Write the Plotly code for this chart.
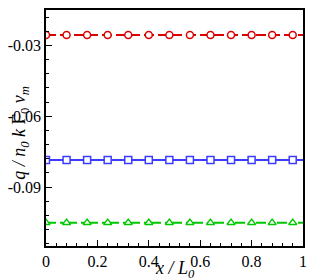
import plotly.graph_objects as go

x_markers = [0, 0.08, 0.16, 0.24, 0.32, 0.40, 0.48, 0.56, 0.64, 0.72, 0.80, 0.88, 0.96]
x_line = [0, 1]
red_val = -0.0256
blue_val = -0.0786
green_val = -0.1051

y_tickvals = [-0.03, -0.06, -0.09]
y_ticktext = ["-0.03", "-0.06", "-0.09"]
x_tickvals = [0, 0.2, 0.4, 0.6, 0.8, 1]
x_ticktext = ["0", "0.2", "0.4", "0.6", "0.8", "1"]

series = [
    ("red", red_val, "rgb(220,0,0)", "10px,4px", "circle"),
    ("blue", blue_val, "rgb(60,60,255)", "solid", "square"),
    ("green", green_val, "rgb(0,200,0)", "10px,4px,3px,4px", "triangle-up"),
]

fig = go.Figure()
for name, val, color, dash, sym in series:
    fig.add_trace(go.Scatter(x=x_line, y=[val] * len(x_line), mode="lines",
                             line=dict(color=color, width=2, dash=dash),
                             showlegend=False, hoverinfo="skip"))
    fig.add_trace(go.Scatter(x=x_markers, y=[val] * len(x_markers), mode="markers",
                             marker=dict(symbol=sym, size=7, color="white",
                                         line=dict(color=color, width=1.5)),
                             showlegend=False))

font = dict(family="Liberation Serif", size=16, color="black")
title_font = dict(family="Liberation Serif", size=18, color="black")

fig.update_layout(
    width=315, height=280,
    margin=dict(l=42, r=8, t=8, b=34),
    paper_bgcolor="white", plot_bgcolor="white",
    font=font,
    xaxis=dict(range=[0, 1], tickvals=x_tickvals, ticktext=x_ticktext,
               ticks="inside", ticklen=6, tickwidth=1.2, tickcolor="black",
               showgrid=False, zeroline=False,
               showline=True, linecolor="black", linewidth=1.5, mirror=True,
               minor=dict(ticks="inside", ticklen=3, dtick=0.04, tickcolor="black", showgrid=False),
               tickfont=font),
    yaxis=dict(range=[-0.115, -0.015], tickvals=y_tickvals, ticktext=y_ticktext,
               ticks="inside", ticklen=6, tickwidth=1.2, tickcolor="black",
               showgrid=False, zeroline=False,
               showline=True, linecolor="black", linewidth=1.5, mirror=True,
               minor=dict(ticks="inside", ticklen=3, tick0=-0.03, dtick=0.006, tickcolor="black", showgrid=False),
               tickfont=font),
    annotations=[
        dict(text="<i>x / L<sub>0</sub></i>", xref="paper", yref="paper",
             x=0.5, y=0, xanchor="center", yanchor="top", yshift=-10,
             showarrow=False, font=title_font),
        dict(text="<i>q / n<sub>0</sub> k</i> Γ<sub>0</sub> <i>v<sub>m</sub></i>", xref="paper", yref="paper",
             x=0, y=0.48, xanchor="center", yanchor="middle", xshift=-25,
             textangle=-90, showarrow=False, font=title_font),
    ],
)

fig.write_html("out.html", config={"displayModeBar": False},
               post_script="document.body.style.margin='0';document.body.style.padding='0';")
